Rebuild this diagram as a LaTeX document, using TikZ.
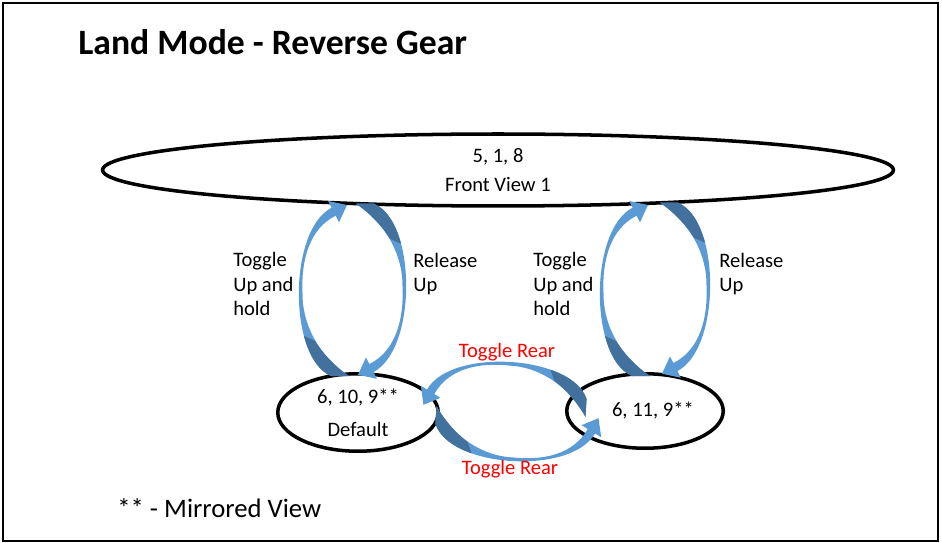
\documentclass[tikz,border=0pt]{standalone}
\usepackage{fontspec}
\setmainfont{Carlito}
\usetikzlibrary{calc,shapes.geometric}

\definecolor{arrowlight}{RGB}{91,155,213}
\definecolor{arrowdark}{RGB}{65,113,156}
\definecolor{rearred}{RGB}{255,0,0}

% tapered curved arrow, tail centre at the origin, head on top
\tikzset{pics/bentarrow/.style={code={%
    \fill[arrowlight] (-9,0) .. controls (-52,-18) and (-52,-146) .. (-8.4,-168.3)
        -- (-11.8,-175) -- (7,-171) -- (-1,-153.6) -- (-4.4,-160.3)
        .. controls (-31,-147) and (-39,-115) .. (-37.5,-83)
        .. controls (-38,-55) and (-24,-22) .. (9,0) -- cycle;
    \fill[arrowdark] (-9,0) .. controls (-21.9,-5.4) and (-30.9,-20.7) .. (-36.1,-40.1)
        -- (-25,-35) .. controls (-19,-25) and (-6,-10) .. (9,0) -- cycle;
}}}

\begin{document}
\begin{tikzpicture}[x=0.02cm,y=-0.02cm]
    \tikzset{State/.style={%
            shape=ellipse,%
            draw=black,%
            line width=2pt,%
            inner sep=0pt,%
            align=center,%
            font=\fontsize{11.7}{18.7}\selectfont,%
        },
        Label/.style={%
            inner sep=0pt,%
            anchor=west,%
            align=left,%
            font=\fontsize{11.7}{13.9}\selectfont,%
        },
        Rear/.style={%
            inner sep=0pt,%
            text=rearred,%
            font=\fontsize{11.7}{14}\selectfont,%
        }}

    \useasboundingbox (0,0) rectangle (942,543);
    \draw[line width=1.1pt] (3,3) rectangle (938,541);

    \node[anchor=west, inner sep=0pt, font=\bfseries\fontsize{20.3}{24}\selectfont] (title) at (78,42) {Land Mode - Reverse Gear};

    \node[State, minimum width=15.82cm, minimum height=1.44cm, font=\fontsize{11.7}{17}\selectfont] (front) at (498,170) {5, 1, 8\\Front View 1};
    \node[State, minimum width=3.21cm, minimum height=1.55cm] (def) at (358,412.5) {6, 10, 9**\\Default};
    \node[State, minimum width=3.13cm, minimum height=1.49cm] (alt) at (645,411) {\hspace*{9pt}6, 11, 9**};

    % arrow tails
    \coordinate (upA) at ($(def.north)+(-18,4)$);
    \coordinate (downA) at ($(front.south)+(-133,-4)$);
    \coordinate (upB) at ($(alt.north)+(-4,4)$);
    \coordinate (downB) at ($(front.south)+(171,-5)$);
    \coordinate (rearA) at ($(alt.west)+(21,-3)$);
    \coordinate (rearB) at ($(def.east)+(-4,2.5)$);

    \pic at (upA) {bentarrow};
    \pic[rotate=180] at (downA) {bentarrow};
    \pic at (upB) {bentarrow};
    \pic[rotate=180] at (downB) {bentarrow};
    \pic[rotate=-3.6, cm={0,-1,-1,0,(0,0)}, yscale=0.95] at (rearA) {bentarrow};
    \pic[rotate=176.4, cm={0,-1,-1,0,(0,0)}, yscale=0.95] at (rearB) {bentarrow};

    \node[Label] (holdA) at (233,284) {Toggle\\Up and\\hold};
    \node[Label] (relA) at (413,274) {Release\\Up};
    \node[Label] (holdB) at (533,284) {Toggle\\Up and\\hold};
    \node[Label] (relB) at (719,274) {Release\\Up};
    \node[Rear] (rearTop) at (507,352) {Toggle Rear};
    \node[Rear] (rearBot) at (510,469) {Toggle Rear};

    \node[anchor=west, inner sep=0pt, font=\fontsize{15.2}{18}\selectfont] (note) at (117,508) {** - Mirrored View};
\end{tikzpicture}
\end{document}
